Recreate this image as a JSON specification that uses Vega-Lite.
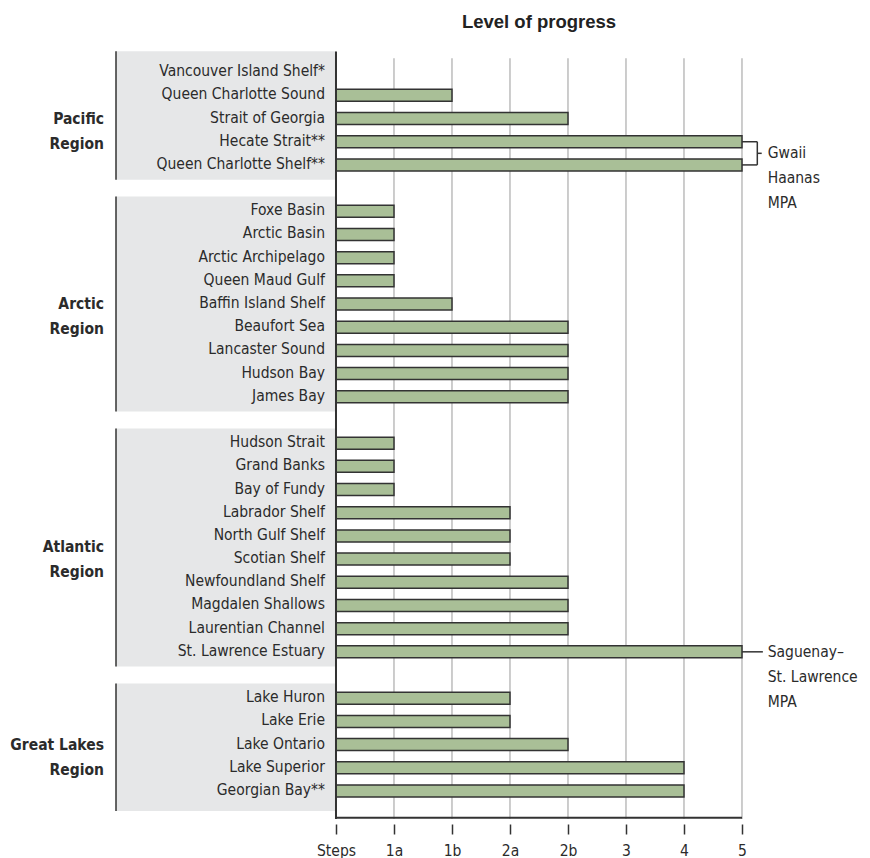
{
  "$schema": "https://vega.github.io/schema/vega-lite/v6.json",
  "width": 870,
  "height": 824,
  "autosize": "none",
  "padding": {"left": 0, "top": 0, "right": 0, "bottom": 34},
  "background": "white",
  "config": {
    "view": {"stroke": null},
    "text": {"font": "DejaVu Sans Condensed"},
    "axisX": {
      "domain": false, "grid": false,
      "ticks": true, "tickSize": 10, "tickColor": "#333333", "tickWidth": 1.5,
      "labelFont": "DejaVu Sans Condensed", "labelFontSize": 15.5, "labelColor": "#2b2b2b",
      "labelPadding": 9, "labelFlush": false, "labelOverlap": false
    }
  },
  "datasets": {
    "areas": [
      {"region": "Pacific\nRegion", "name": "Vancouver Island Shelf*", "row": 0, "level": null},
      {"region": "Pacific\nRegion", "name": "Queen Charlotte Sound", "row": 1, "level": 2},
      {"region": "Pacific\nRegion", "name": "Strait of Georgia", "row": 2, "level": 4},
      {"region": "Pacific\nRegion", "name": "Hecate Strait**", "row": 3, "level": 7},
      {"region": "Pacific\nRegion", "name": "Queen Charlotte Shelf**", "row": 4, "level": 7},
      {"region": "Arctic\nRegion", "name": "Foxe Basin", "row": 6, "level": 1},
      {"region": "Arctic\nRegion", "name": "Arctic Basin", "row": 7, "level": 1},
      {"region": "Arctic\nRegion", "name": "Arctic Archipelago", "row": 8, "level": 1},
      {"region": "Arctic\nRegion", "name": "Queen Maud Gulf", "row": 9, "level": 1},
      {"region": "Arctic\nRegion", "name": "Baffin Island Shelf", "row": 10, "level": 2},
      {"region": "Arctic\nRegion", "name": "Beaufort Sea", "row": 11, "level": 4},
      {"region": "Arctic\nRegion", "name": "Lancaster Sound", "row": 12, "level": 4},
      {"region": "Arctic\nRegion", "name": "Hudson Bay", "row": 13, "level": 4},
      {"region": "Arctic\nRegion", "name": "James Bay", "row": 14, "level": 4},
      {"region": "Atlantic\nRegion", "name": "Hudson Strait", "row": 16, "level": 1},
      {"region": "Atlantic\nRegion", "name": "Grand Banks", "row": 17, "level": 1},
      {"region": "Atlantic\nRegion", "name": "Bay of Fundy", "row": 18, "level": 1},
      {"region": "Atlantic\nRegion", "name": "Labrador Shelf", "row": 19, "level": 3},
      {"region": "Atlantic\nRegion", "name": "North Gulf Shelf", "row": 20, "level": 3},
      {"region": "Atlantic\nRegion", "name": "Scotian Shelf", "row": 21, "level": 3},
      {"region": "Atlantic\nRegion", "name": "Newfoundland Shelf", "row": 22, "level": 4},
      {"region": "Atlantic\nRegion", "name": "Magdalen Shallows", "row": 23, "level": 4},
      {"region": "Atlantic\nRegion", "name": "Laurentian Channel", "row": 24, "level": 4},
      {"region": "Atlantic\nRegion", "name": "St. Lawrence Estuary", "row": 25, "level": 7},
      {"region": "Great Lakes\nRegion", "name": "Lake Huron", "row": 27, "level": 3},
      {"region": "Great Lakes\nRegion", "name": "Lake Erie", "row": 28, "level": 3},
      {"region": "Great Lakes\nRegion", "name": "Lake Ontario", "row": 29, "level": 4},
      {"region": "Great Lakes\nRegion", "name": "Lake Superior", "row": 30, "level": 6},
      {"region": "Great Lakes\nRegion", "name": "Georgian Bay**", "row": 31, "level": 6}
    ],
    "steps": [
      {"v": 0, "label": "Steps"}, {"v": 1, "label": "1a"}, {"v": 2, "label": "1b"}, {"v": 3, "label": "2a"},
      {"v": 4, "label": "2b"}, {"v": 5, "label": "3"}, {"v": 6, "label": "4"}, {"v": 7, "label": "5"}
    ],
    "notes": [
      {"label": "Gwaii\nHaanas\nMPA", "row": 3.5},
      {"label": "Saguenay–\nSt. Lawrence\nMPA", "row": 25}
    ],
    "heading": [{"title": "Level of progress"}]
  },
  "layer": [
    {
      "data": {"name": "areas"},
      "transform": [
        {"filter": "indexof(datum.region, 'Arctic') >= 0 || indexof(datum.region, 'Atlantic') >= 0"},
        {"aggregate": [{"op": "min", "field": "row", "as": "first"}, {"op": "max", "field": "row", "as": "last"}], "groupby": ["region"]}
      ],
      "mark": {"type": "rect", "fill": "#e6e7e8", "yOffset": -14.7, "y2Offset": 14.7},
      "encoding": {
        "x": {"datum": -3.793, "type": "quantitative", "scale": {"domain": [-5.793, 9.207], "nice": false, "zero": false}, "title": null},
        "x2": {"datum": 0},
        "y": {"field": "first", "type": "quantitative", "scale": {"domain": [-2.897, 32.21], "reverse": true, "nice": false, "zero": false}, "axis": null},
        "y2": {"field": "last"}
      }
    },
    {
      "data": {"name": "areas"},
      "transform": [
        {"filter": "indexof(datum.region, 'Pacific') >= 0"},
        {"aggregate": [{"op": "min", "field": "row", "as": "first"}, {"op": "max", "field": "row", "as": "last"}], "groupby": ["region"]}
      ],
      "mark": {"type": "rect", "fill": "#e6e7e8", "yOffset": -21, "y2Offset": 14.8},
      "encoding": {
        "x": {"datum": -3.793, "type": "quantitative", "title": null},
        "x2": {"datum": 0},
        "y": {"field": "first", "type": "quantitative", "axis": null},
        "y2": {"field": "last"}
      }
    },
    {
      "data": {"name": "areas"},
      "transform": [
        {"filter": "indexof(datum.region, 'Great Lakes') >= 0"},
        {"aggregate": [{"op": "min", "field": "row", "as": "first"}, {"op": "max", "field": "row", "as": "last"}], "groupby": ["region"]}
      ],
      "mark": {"type": "rect", "fill": "#e6e7e8", "yOffset": -14.7, "y2Offset": 20},
      "encoding": {
        "x": {"datum": -3.793, "type": "quantitative", "title": null},
        "x2": {"datum": 0},
        "y": {"field": "first", "type": "quantitative", "axis": null},
        "y2": {"field": "last"}
      }
    },
    {
      "data": {"name": "areas"},
      "transform": [
        {"filter": "indexof(datum.region, 'Arctic') >= 0 || indexof(datum.region, 'Atlantic') >= 0"},
        {"aggregate": [{"op": "min", "field": "row", "as": "first"}, {"op": "max", "field": "row", "as": "last"}], "groupby": ["region"]}
      ],
      "mark": {"type": "rule", "stroke": "#333333", "strokeWidth": 1.5, "yOffset": -14.7, "y2Offset": 14.7},
      "encoding": {
        "x": {"datum": -3.793, "type": "quantitative", "title": null},
        "y": {"field": "first", "type": "quantitative", "axis": null},
        "y2": {"field": "last"}
      }
    },
    {
      "data": {"name": "areas"},
      "transform": [
        {"filter": "indexof(datum.region, 'Pacific') >= 0"},
        {"aggregate": [{"op": "min", "field": "row", "as": "first"}, {"op": "max", "field": "row", "as": "last"}], "groupby": ["region"]}
      ],
      "mark": {"type": "rule", "stroke": "#333333", "strokeWidth": 1.5, "yOffset": -21, "y2Offset": 14.8},
      "encoding": {
        "x": {"datum": -3.793, "type": "quantitative", "title": null},
        "y": {"field": "first", "type": "quantitative", "axis": null},
        "y2": {"field": "last"}
      }
    },
    {
      "data": {"name": "areas"},
      "transform": [
        {"filter": "indexof(datum.region, 'Great Lakes') >= 0"},
        {"aggregate": [{"op": "min", "field": "row", "as": "first"}, {"op": "max", "field": "row", "as": "last"}], "groupby": ["region"]}
      ],
      "mark": {"type": "rule", "stroke": "#333333", "strokeWidth": 1.5, "yOffset": -14.7, "y2Offset": 20},
      "encoding": {
        "x": {"datum": -3.793, "type": "quantitative", "title": null},
        "y": {"field": "first", "type": "quantitative", "axis": null},
        "y2": {"field": "last"}
      }
    },
    {
      "data": {"name": "steps"},
      "transform": [{"filter": "datum.v >= 1"}],
      "mark": {"type": "rule", "stroke": "#9a9a9a", "strokeWidth": 1},
      "encoding": {
        "x": {"field": "v", "type": "quantitative", "title": null},
        "y": {"datum": -0.6, "type": "quantitative", "axis": null},
        "y2": {"datum": 32.21}
      }
    },
    {
      "data": {"name": "areas"},
      "mark": {"type": "bar", "orient": "horizontal", "size": 12, "fill": "#a9bf97", "stroke": "#333333", "strokeWidth": 1.5},
      "encoding": {
        "x": {
          "field": "level", "type": "quantitative", "stack": null, "title": null,
          "axis": {
            "values": [0, 1, 2, 3, 4, 5, 6, 7],
            "labelExpr": "['Steps','1a','1b','2a','2b','3','4','5'][datum.value]",
            "title": null, "labelFontSize": 15.5, "labelFont": "DejaVu Sans Condensed", "labelPadding": 9
          }
        },
        "y": {"field": "row", "type": "quantitative", "axis": null}
      }
    },
    {
      "data": {"name": "heading"},
      "mark": {"type": "rule", "stroke": "#333333", "strokeWidth": 2},
      "encoding": {
        "x": {"datum": 0, "type": "quantitative", "title": null},
        "y": {"datum": -0.895, "type": "quantitative", "axis": null},
        "y2": {"datum": 32.21}
      }
    },
    {
      "data": {"name": "heading"},
      "mark": {"type": "rule", "stroke": "#333333", "strokeWidth": 2},
      "encoding": {
        "x": {"datum": 0, "type": "quantitative", "title": null},
        "x2": {"datum": 7},
        "y": {"datum": 32.16, "type": "quantitative", "axis": null}
      }
    },
    {
      "data": {"name": "areas"},
      "mark": {"type": "text", "align": "right", "baseline": "middle", "dx": -11, "dy": -1, "fontSize": 15.5, "fill": "#2b2b2b", "font": "DejaVu Sans Condensed"},
      "encoding": {
        "x": {"datum": 0, "type": "quantitative", "title": null},
        "y": {"field": "row", "type": "quantitative", "axis": null},
        "text": {"field": "name"}
      }
    },
    {
      "data": {"name": "areas"},
      "transform": [{"aggregate": [{"op": "mean", "field": "row", "as": "mid"}], "groupby": ["region"]}],
      "mark": {"type": "text", "align": "right", "baseline": "middle", "lineBreak": "\n", "lineHeight": 25, "fontSize": 15.5, "fontWeight": "bold", "fill": "#2b2b2b", "font": "DejaVu Sans Condensed"},
      "encoding": {
        "x": {"datum": -4.0, "type": "quantitative", "title": null},
        "y": {"field": "mid", "type": "quantitative", "axis": null},
        "text": {"field": "region"}
      }
    },
    {
      "data": {"name": "heading"},
      "mark": {"type": "rule", "stroke": "#333333", "strokeWidth": 1.5},
      "encoding": {
        "x": {"datum": 7, "type": "quantitative", "title": null},
        "x2": {"datum": 7.264},
        "y": {"datum": 3, "type": "quantitative", "axis": null}
      }
    },
    {
      "data": {"name": "heading"},
      "mark": {"type": "rule", "stroke": "#333333", "strokeWidth": 1.5},
      "encoding": {
        "x": {"datum": 7, "type": "quantitative", "title": null},
        "x2": {"datum": 7.264},
        "y": {"datum": 4, "type": "quantitative", "axis": null}
      }
    },
    {
      "data": {"name": "heading"},
      "mark": {"type": "rule", "stroke": "#333333", "strokeWidth": 1.5},
      "encoding": {
        "x": {"datum": 7.264, "type": "quantitative", "title": null},
        "y": {"datum": 3, "type": "quantitative", "axis": null},
        "y2": {"datum": 4}
      }
    },
    {
      "data": {"name": "heading"},
      "mark": {"type": "rule", "stroke": "#333333", "strokeWidth": 1.5},
      "encoding": {
        "x": {"datum": 7.264, "type": "quantitative", "title": null},
        "x2": {"datum": 7.34},
        "y": {"datum": 3.5, "type": "quantitative", "axis": null}
      }
    },
    {
      "data": {"name": "heading"},
      "mark": {"type": "rule", "stroke": "#333333", "strokeWidth": 1.5},
      "encoding": {
        "x": {"datum": 7, "type": "quantitative", "title": null},
        "x2": {"datum": 7.36},
        "y": {"datum": 25, "type": "quantitative", "axis": null}
      }
    },
    {
      "data": {"name": "notes"},
      "mark": {"type": "text", "align": "left", "baseline": "middle", "lineBreak": "\n", "lineHeight": 25, "fontSize": 15.5, "fill": "#2b2b2b", "font": "DejaVu Sans Condensed"},
      "encoding": {
        "x": {"datum": 7.443, "type": "quantitative", "title": null},
        "y": {"field": "row", "type": "quantitative", "axis": null},
        "text": {"field": "label"}
      }
    },
    {
      "data": {"name": "heading"},
      "mark": {"type": "text", "align": "center", "baseline": "middle", "fontSize": 18.5, "fontWeight": "bold", "fill": "#222222", "font": "Liberation Sans"},
      "encoding": {
        "x": {"datum": 3.5, "type": "quantitative", "title": null},
        "y": {"datum": -2.17, "type": "quantitative", "axis": null},
        "text": {"field": "title"}
      }
    }
  ]
}
